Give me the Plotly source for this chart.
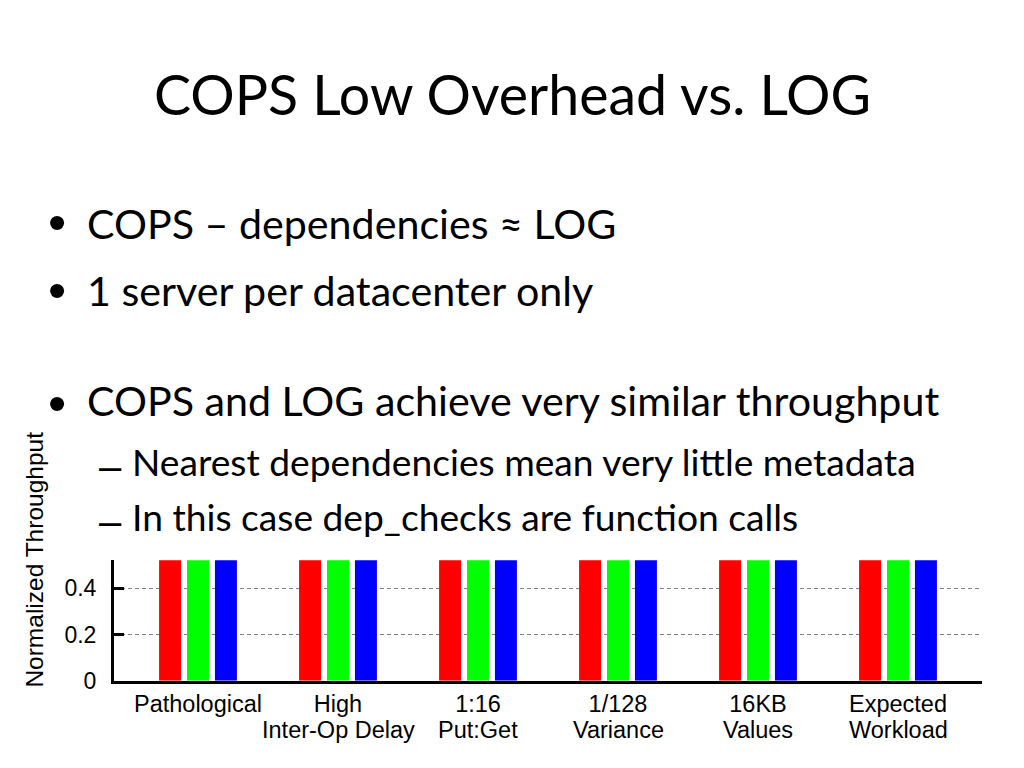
import plotly.graph_objects as go

# ---------------- data ----------------
categories = ["Pathological", "High Inter-Op Delay", "1:16 Put:Get",
              "1/128 Variance", "16KB Values", "Expected Workload"]
label_line1 = ["Pathological", "High", "1:16", "1/128", "16KB", "Expected"]
label_line2 = ["", "Inter-Op Delay", "Put:Get", "Variance", "Values", "Workload"]
series_names = ["LOG", "COPS", "COPS-GT"]
log_values = [1.00, 1.00, 1.00, 1.00, 1.00, 1.00]
cops_values = [0.98, 0.99, 0.99, 0.99, 0.98, 0.99]
copsgt_values = [0.96, 0.97, 0.98, 0.98, 0.97, 0.98]
y_tick_values = [0, 0.2, 0.4]
y_tick_labels = ["0", "0.2", "0.4"]

title_text = "COPS Low Overhead vs. LOG"
bullets = ["COPS \u2013 dependencies \u2248 LOG",
           "1 server per datacenter only",
           "COPS and LOG achieve very similar throughput"]
sub_bullets = ["Nearest dependencies mean very little metadata",
               "In this case dep_checks are function calls"]

# ---------------- layout helpers ----------------
W, H = 1024, 768
H_EFF = 753.5  # effective rendered height of the page
def px(x):
    return x / W
def py(y):
    return 1 - y / H_EFF

colors = ["#ff0000", "#00ff00", "#0000ff"]
bar_w = 0.157
offsets = [-0.278, -0.0785, 0.121]

fig = go.Figure()
for name, vals, c, off in zip(series_names, [log_values, cops_values, copsgt_values], colors, offsets):
    fig.add_trace(go.Bar(x=categories, y=vals, name=name, marker=dict(color=c, line=dict(width=0)),
                         width=bar_w, offset=off, showlegend=False))

y_bottom_px = 679.5
y_top_px = y_bottom_px - 0.52 * 46.3 / 0.2
chart_font = "Liberation Sans, Arial, sans-serif"
slide_font = "Lato, sans-serif"

fig.update_layout(
    width=W, height=H, margin=dict(l=0, r=0, t=0, b=0),
    paper_bgcolor="white", plot_bgcolor="white",
    barmode="overlay",
    xaxis=dict(domain=[px(114), px(982)], type="category", range=[-0.6, 5.6],
               tickmode="array", tickvals=categories, ticktext=label_line1,
               showline=True, linecolor="black", linewidth=3, ticks="",
               showgrid=False, zeroline=False,
               tickfont=dict(family=chart_font, size=23.5, color="black")),
    yaxis=dict(domain=[py(y_bottom_px), py(y_top_px)], range=[0, 0.52],
               tickmode="array", tickvals=y_tick_values, ticktext=y_tick_labels,
               showline=True, linecolor="black", linewidth=3,
               ticks="inside", ticklen=10, tickwidth=3, tickcolor="black",
               ticklabelstandoff=10,
               showgrid=True, gridcolor="#808080", gridwidth=1, griddash="4px,3px",
               zeroline=False,
               tickfont=dict(family=chart_font, size=23, color="black")),
)

ann = []
# title
ann.append(dict(text=title_text, x=px(512), y=py(93.5), xref="paper", yref="paper",
                xanchor="center", yanchor="middle", showarrow=False,
                font=dict(family=slide_font, size=55.5, color="black")))
# bullets
for t, yc, yb in zip(bullets, [223, 289, 399.5], [222, 289, 402]):
    ann.append(dict(text="\u2022", x=px(56.5), y=py(yb), xref="paper", yref="paper",
                    xanchor="center", yanchor="middle", showarrow=False,
                    font=dict(family="Liberation Sans, Arial", size=52, color="black")))
    ann.append(dict(text=t, x=px(85), y=py(yc), xref="paper", yref="paper",
                    xanchor="left", yanchor="middle", showarrow=False,
                    font=dict(family=slide_font, size=41.2, color="black")))
for t, yc, yd in zip(sub_bullets, [460.5, 515.5], [465, 520]):
    ann.append(dict(text="\u2013", x=px(110), y=py(yd), xref="paper", yref="paper",
                    xanchor="center", yanchor="middle", showarrow=False,
                    font=dict(family="Liberation Sans, Arial", size=40, color="black")))
    ann.append(dict(text=t, x=px(130), y=py(yc), xref="paper", yref="paper",
                    xanchor="left", yanchor="middle", showarrow=False,
                    font=dict(family=slide_font, size=37.2, color="black")))
# y-axis title
ann.append(dict(text="Normalized Throughput", x=px(35), y=py(558.5), xref="paper", yref="paper",
                xanchor="center", yanchor="middle", textangle=-90, showarrow=False,
                font=dict(family=chart_font, size=24.5, color="black")))
# second lines of category labels
for cat, l2 in zip(categories, label_line2):
    if l2:
        ann.append(dict(text=l2, x=cat, y=py(728.5), xref="x", yref="paper",
                        xanchor="center", yanchor="middle", showarrow=False,
                        font=dict(family=chart_font, size=23.5, color="black")))
fig.update_layout(annotations=ann)

post = ("document.body.style.margin='0';"
        "var d=document.getElementById('{plot_id}');"
        "d.style.position='fixed';d.style.top='0';d.style.left='0';")
fig.write_html("out.html", config={"displayModeBar": False}, post_script=post)
